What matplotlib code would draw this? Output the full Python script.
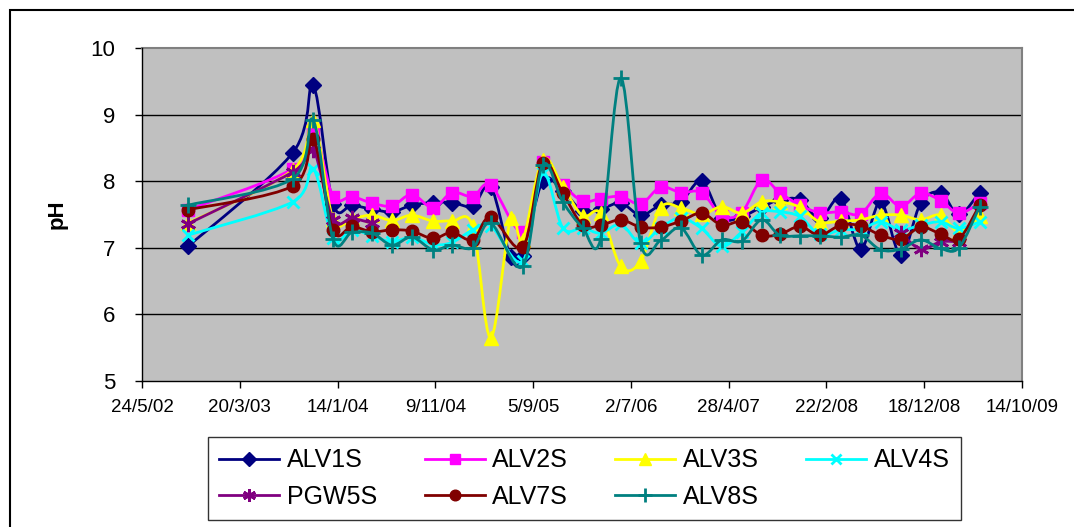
import numpy as np
import matplotlib
matplotlib.use("Agg")
import matplotlib.pyplot as plt
import matplotlib.dates as mdates
from matplotlib.path import Path
from matplotlib.patches import PathPatch, Rectangle
from matplotlib.lines import Line2D
from datetime import datetime

plt.rcParams['font.family'] = ['Liberation Sans', 'DejaVu Sans']

nan = np.nan

dates = ["2002-10-12", "2003-08-30", "2003-10-31", "2003-12-31", "2004-02-27",
         "2004-04-29", "2004-06-29", "2004-08-29", "2004-11-02", "2004-12-30",
         "2005-03-04", "2005-04-28", "2005-06-28", "2005-08-04", "2005-10-04",
         "2005-12-05", "2006-02-04", "2006-03-31", "2006-06-01", "2006-08-01",
         "2006-10-01", "2006-12-02", "2007-02-04", "2007-04-07", "2007-06-07",
         "2007-08-07", "2007-10-01", "2007-12-02", "2008-02-01", "2008-04-06",
         "2008-06-06", "2008-08-06", "2008-10-07", "2008-12-07", "2009-02-06",
         "2009-04-03", "2009-06-06"]

alv1s = [7.02, 8.43, 9.44, 7.66, 7.64, 7.58, 7.54, 7.64, 7.68, 7.68, 7.63, 7.92, 6.86,
         6.87, 8.00, 7.85, 7.55, 7.58, 7.67, 7.49, 7.64, 7.69, 8.00, 7.45, 7.47, 7.61,
         7.72, 7.72, 7.44, 7.74, 6.98, 7.69, 6.89, 7.67, 7.83, 7.50, 7.83]
alv2s = [7.57, 8.19, 8.77, 7.77, 7.77, 7.67, 7.63, 7.80, 7.60, 7.83, 7.77, 7.94, nan,
         7.24, 8.29, 7.95, 7.70, 7.74, 7.77, 7.66, 7.91, 7.83, 7.83, 7.48, 7.53, 8.02,
         7.83, 7.64, 7.53, 7.54, 7.51, 7.82, 7.62, 7.82, 7.71, 7.52, 7.67]
alv3s = [7.37, 8.17, 8.92, 7.43, 7.44, 7.49, 7.41, 7.49, 7.40, 7.40, 7.32, 5.65, 7.44,
         7.12, 8.32, 7.92, 7.48, 7.52, 6.72, 6.80, 7.60, 7.60, 7.50, 7.62, 7.52, 7.69,
         7.69, 7.61, 7.39, 7.40, 7.42, 7.49, 7.49, 7.42, 7.49, 7.24, 7.47]
alv4s = [7.19, 7.69, 8.19, 7.14, 7.27, 7.18, 7.09, 7.16, 7.05, 7.08, 7.27, 7.33, nan,
         6.80, 8.12, 7.30, 7.30, 7.22, 7.35, 7.07, 7.30, 7.45, 7.29, 7.02, 7.24, 7.53,
         7.54, 7.47, 7.20, 7.27, 7.28, 7.39, 7.27, 7.34, 7.39, 7.29, 7.39]
pgw5s = [7.36, 8.14, 8.47, 7.42, 7.44, 7.37, nan, nan, nan, nan, nan, nan, nan,
         nan, nan, nan, nan, nan, nan, nan, nan, nan, nan, nan, nan, nan,
         nan, nan, nan, nan, nan, nan, 7.22, 6.98, 7.09, 7.09, nan]
alv7s = [7.57, 7.93, 8.63, 7.26, 7.32, 7.24, 7.27, 7.25, 7.14, 7.23, 7.12, 7.46, nan,
         7.01, 8.27, 7.82, 7.34, 7.34, 7.42, 7.31, 7.31, 7.40, 7.52, 7.34, 7.39, 7.19,
         7.20, 7.32, 7.19, 7.34, 7.33, 7.19, 7.13, 7.31, 7.21, 7.13, 7.64]
alv8s = [7.64, 8.04, 8.92, 7.13, 7.23, 7.22, 7.04, 7.16, 6.97, 7.04, 7.00, 7.37, nan,
         6.72, 8.24, 7.69, 7.30, 7.13, 9.55, 7.07, 7.11, 7.30, 6.89, 7.12, 7.10, 7.42,
         7.19, 7.18, 7.18, 7.16, 7.19, 6.97, 6.98, 7.12, 6.99, 7.00, 7.62]

series_names = ["ALV1S", "ALV2S", "ALV3S", "ALV4S", "PGW5S", "ALV7S", "ALV8S"]
series_values = [alv1s, alv2s, alv3s, alv4s, pgw5s, alv7s, alv8s]

x_tick_labels = ["24/5/02", "20/3/03", "14/1/04", "9/11/04", "5/9/05", "2/7/06",
                 "28/4/07", "22/2/08", "18/12/08", "14/10/09"]
y_ticks = [5, 6, 7, 8, 9, 10]

styles = {
    "ALV1S": dict(color="#000080", marker="D", ms=8, mfc="#000080", mec="#000080", mew=1),
    "ALV2S": dict(color="#FF00FF", marker="s", ms=9, mfc="#FF00FF", mec="#FF00FF", mew=1),
    "ALV3S": dict(color="#FFFF00", marker="^", ms=10, mfc="#FFFF00", mec="#FFFF00", mew=1),
    "ALV4S": dict(color="#00FFFF", marker="x", ms=9, mfc="#00FFFF", mec="#00FFFF", mew=2),
    "PGW5S": dict(color="#800080", marker=(6, 2, 0), ms=11, mfc="#800080", mec="#800080", mew=2),
    "ALV7S": dict(color="#800000", marker="o", ms=9, mfc="#800000", mec="#800000", mew=1),
    "ALV8S": dict(color="#008080", marker="+", ms=12, mfc="#008080", mec="#008080", mew=2),
}

W, H = 1074, 527
fig = plt.figure(figsize=(W / 100, H / 100), dpi=100)
fig.patch.set_facecolor("white")

L, R, T, B = 142, 1022, 48, 381
ax = fig.add_axes([L / W, 1 - B / H, (R - L) / W, (B - T) / H])
ax.set_facecolor("#C0C0C0")

xnum = mdates.date2num([datetime.strptime(d, "%Y-%m-%d") for d in dates])
tick_dates = [datetime.strptime(s, "%d/%m/%y") for s in x_tick_labels]
tick_num = mdates.date2num(tick_dates)


def smooth_path(xs, ys):
    pts = np.column_stack([xs, ys])
    n = len(pts)
    verts = [pts[0]]
    codes = [Path.MOVETO]
    for i in range(n - 1):
        p0 = pts[i - 1] if i > 0 else pts[i]
        p1 = pts[i]
        p2 = pts[i + 1]
        p3 = pts[i + 2] if i + 2 < n else pts[i + 1]
        c1 = p1 + (p2 - p0) / 6.0
        c2 = p2 - (p3 - p1) / 6.0
        verts += [c1, c2, p2]
        codes += [Path.CURVE4] * 3
    return Path(verts, codes)


def segments(vals):
    v = np.asarray(vals, dtype=float)
    idx = np.where(~np.isnan(v))[0]
    segs = []
    cur = [idx[0]]
    for a, b in zip(idx[:-1], idx[1:]):
        if b - a > 3:
            segs.append(cur)
            cur = []
        cur.append(b)
    segs.append(cur)
    return segs


handles = {}
for k, (name, vals) in enumerate(zip(series_names, series_values)):
    st = styles[name]
    v = np.asarray(vals, dtype=float)
    z = 3 + k
    for seg in segments(v):
        seg = np.array(seg)
        if len(seg) > 1:
            p = smooth_path(xnum[seg], v[seg])
            ax.add_patch(PathPatch(p, fill=False, edgecolor=st["color"], lw=2,
                                   zorder=z, capstyle="round", joinstyle="round"))
    ax.plot(xnum, v, linestyle="none", marker=st["marker"], ms=st["ms"],
            mfc=st["mfc"], mec=st["mec"], mew=st["mew"], zorder=z + 0.5)
    handles[name] = Line2D([], [], color=st["color"], lw=2, marker=st["marker"],
                           ms=st["ms"] * 0.85, mfc=st["mfc"], mec=st["mec"], mew=st["mew"])

ax.set_xlim(tick_num[0], tick_num[-1])
ax.set_ylim(5, 10)
ax.set_xticks(tick_num)
ax.set_xticklabels(x_tick_labels, fontsize=13.5)
ax.set_yticks(y_ticks)
ax.set_yticklabels([str(t) for t in y_ticks], fontsize=16)
for yv in y_ticks[1:-1]:
    ax.axhline(yv, color="black", lw=1, zorder=1)

ax.tick_params(axis="x", direction="out", length=5, width=1, pad=8, colors="black")
ax.tick_params(axis="y", direction="out", length=5, width=1, pad=14, colors="black")
for s in ["left", "bottom"]:
    ax.spines[s].set_color("black")
    ax.spines[s].set_linewidth(1)
    ax.spines[s].set_zorder(20)
for s in ["top", "right"]:
    ax.spines[s].set_color("#808080")
    ax.spines[s].set_linewidth(1.5)

ax.set_ylabel("pH", fontsize=16, fontweight="bold")
ax.yaxis.set_label_coords(-0.085, 0.5)

# outer chart border
fig.add_artist(Rectangle((10 / W, -0.1), 1.5, (H - 10) / H + 0.1, transform=fig.transFigure,
                         fill=False, edgecolor="black", lw=1.5))

order = ["ALV1S", "PGW5S", "ALV2S", "ALV7S", "ALV3S", "ALV8S", "ALV4S"]
leg = fig.legend([handles[n] for n in order], order, ncol=4, loc="upper left",
                 bbox_to_anchor=(208 / W, 1 - 437 / H), fontsize=18, frameon=True,
                 fancybox=False, edgecolor="black", handlelength=2.4, handletextpad=0.3,
                 columnspacing=1.9, borderpad=0.45, labelspacing=0.5, borderaxespad=0)
leg.get_frame().set_linewidth(1)

fig.savefig("out.png", dpi=100)
